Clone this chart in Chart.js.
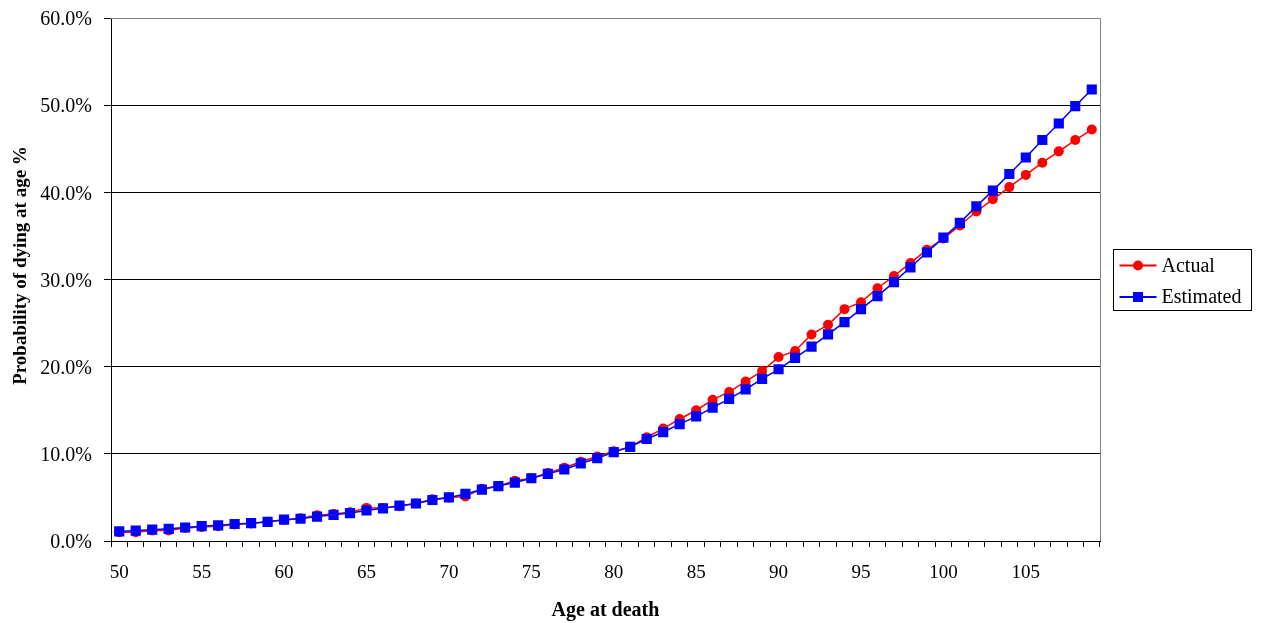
<!DOCTYPE html>
<html>
<head>
<meta charset="utf-8">
<script src="https://cdn.jsdelivr.net/npm/chart.js@4/dist/chart.umd.min.js"></script>
<style>
    body { margin: 0; background: #fff; }
    #wrap { width: 1265px; height: 623px; }
</style>
</head>
<body>
<div id="wrap"><canvas id="chart" width="1265" height="623"></canvas></div>
<script>
const ages = [
    50, 51, 52, 53, 54, 55, 56, 57, 58, 59,
    60, 61, 62, 63, 64, 65, 66, 67, 68, 69,
    70, 71, 72, 73, 74, 75, 76, 77, 78, 79,
    80, 81, 82, 83, 84, 85, 86, 87, 88, 89,
    90, 91, 92, 93, 94, 95, 96, 97, 98, 99,
    100, 101, 102, 103, 104, 105, 106, 107, 108, 109
];

// probability of dying at age, in %
const actual = [
    1.0, 1.0, 1.2, 1.2, 1.5, 1.6, 1.7, 1.9, 2.0, 2.2,
    2.4, 2.6, 2.95, 3.1, 3.3, 3.8, 3.8, 4.0, 4.3, 4.8,
    5.0, 5.1, 6.0, 6.3, 6.9, 7.2, 7.8, 8.4, 9.1, 9.7,
    10.3, 10.8, 11.9, 12.9, 14.0, 15.0, 16.2, 17.1, 18.3, 19.5,
    21.1, 21.8, 23.7, 24.8, 26.6, 27.4, 29.0, 30.4, 31.9, 33.4,
    34.7, 36.2, 37.8, 39.2, 40.6, 42.0, 43.4, 44.7, 46.0, 47.2
];

const estimated = [
    1.1, 1.2, 1.3, 1.4, 1.55, 1.7, 1.8, 1.95, 2.05, 2.2,
    2.45, 2.55, 2.8, 3.0, 3.2, 3.5, 3.75, 4.05, 4.3, 4.7,
    5.0, 5.4, 5.9, 6.3, 6.7, 7.2, 7.7, 8.2, 8.9, 9.5,
    10.2, 10.8, 11.7, 12.5, 13.4, 14.3, 15.3, 16.3, 17.4, 18.6,
    19.7, 21.0, 22.3, 23.7, 25.1, 26.6, 28.1, 29.7, 31.4, 33.1,
    34.8, 36.5, 38.4, 40.2, 42.1, 44.0, 46.0, 47.9, 49.9, 51.8
];

const yTicks = [0, 10, 20, 30, 40, 50, 60];
const xLabelEvery = 5;
const yTitle = 'Probability of dying at age %';

const FONT = "'Liberation Serif', 'Times New Roman', serif";

// plot frame (gray top/right), y title, boxed legend on the right
const framePlugin = {
    id: 'frame',
    afterDatasetsDraw(chart) {
        const {ctx, chartArea: a} = chart;
        ctx.save();
        ctx.strokeStyle = '#808080';
        ctx.lineWidth = 1;
        ctx.beginPath();
        ctx.moveTo(a.left, Math.round(a.top) + 0.5);
        ctx.lineTo(Math.round(a.right) + 0.5, Math.round(a.top) + 0.5);
        ctx.lineTo(Math.round(a.right) + 0.5, a.bottom);
        ctx.stroke();
        ctx.restore();
    },
    afterDraw(chart) {
        const {ctx, chartArea: a} = chart;
        ctx.save();
        // y axis title, sits a bit above the plot's middle like the original
        ctx.translate(21, (a.top + a.bottom) / 2 - 14);
        ctx.rotate(-Math.PI / 2);
        ctx.font = 'bold 19px ' + FONT;
        ctx.fillStyle = '#000';
        ctx.textAlign = 'center';
        ctx.textBaseline = 'middle';
        ctx.fillText(yTitle, 0, 0);
        ctx.restore();

        const x0 = Math.round(a.right) + 13.5, y0 = 249.5;
        ctx.save();
        ctx.strokeStyle = '#000';
        ctx.lineWidth = 1;
        ctx.strokeRect(x0, y0, 138, 61);
        ctx.font = '20px ' + FONT;
        ctx.textBaseline = 'middle';
        const rows = [chart.data.datasets[0], chart.data.datasets[1]];
        rows.forEach((ds, i) => {
            const y = 265.5 + i * 31.5;
            ctx.strokeStyle = ds.borderColor;
            ctx.lineWidth = 2;
            ctx.beginPath();
            ctx.moveTo(x0 + 6, y);
            ctx.lineTo(x0 + 43, y);
            ctx.stroke();
            ctx.fillStyle = ds.borderColor;
            const cx = x0 + 24.5;
            if (ds.pointStyle === 'rect') {
                ctx.fillRect(cx - 5, y - 5, 10, 10);
            } else {
                ctx.beginPath();
                ctx.arc(cx, y, 5, 0, Math.PI * 2);
                ctx.fill();
            }
            ctx.fillStyle = '#000';
            ctx.fillText(ds.label, x0 + 48, y + 1);
        });
        ctx.restore();
    }
};

new Chart(document.getElementById('chart'), {
    type: 'line',
    data: {
        labels: ages,
        datasets: [{
            label: 'Actual',
            data: actual,
            borderColor: '#ff0000',
            backgroundColor: '#ff0000',
            borderWidth: 1.5,
            pointStyle: 'circle',
            pointRadius: 5,
            pointBorderWidth: 0,
            order: 1
        }, {
            label: 'Estimated',
            data: estimated,
            borderColor: '#0000ff',
            backgroundColor: '#0000ff',
            borderWidth: 1.5,
            pointStyle: 'rect',
            pointRadius: 7.2,
            pointBorderWidth: 0,
            order: 0
        }]
    },
    options: {
        responsive: false,
        animation: false,
        layout: { padding: { top: 18, right: 165, left: 0, bottom: 0 } },
        plugins: {
            legend: { display: false },
            tooltip: { enabled: false }
        },
        scales: {
            x: {
                type: 'category',
                offset: true,
                afterFit(scale) { scale.height = 82; },
                grid: {
                    offset: true,
                    drawOnChartArea: false,
                    tickLength: 6,
                    tickColor: '#000'
                },
                border: { display: true, color: '#000', width: 1 },
                ticks: {
                    autoSkip: false,
                    maxRotation: 0,
                    padding: 15,
                    color: '#000',
                    font: { family: FONT, size: 19 },
                    callback(value, index) {
                        const age = ages[index];
                        return age % xLabelEvery === 0 ? String(age) : '';
                    }
                },
                title: {
                    display: true,
                    text: 'Age at death',
                    color: '#000',
                    font: { family: FONT, size: 20, weight: 'bold' },
                    padding: { top: 0, bottom: 0 }
                }
            },
            y: {
                min: yTicks[0],
                max: yTicks[yTicks.length - 1],
                afterFit(scale) {
                    scale.width = 111;
                    scale.paddingTop = 0;
                    scale.paddingBottom = 0;
                },
                afterBuildTicks(scale) { scale.ticks = yTicks.map(v => ({ value: v })); },
                grid: {
                    color: '#000',
                    tickColor: '#000',
                    tickLength: 7
                },
                border: { display: true, color: '#000', width: 1 },
                ticks: {
                    padding: 12,
                    labelOffset: 2,
                    color: '#000',
                    font: { family: FONT, size: 20 },
                    callback: v => v.toFixed(1) + '%'
                },
                title: { display: false }
            }
        }
    },
    plugins: [framePlugin]
});
</script>
</body>
</html>
